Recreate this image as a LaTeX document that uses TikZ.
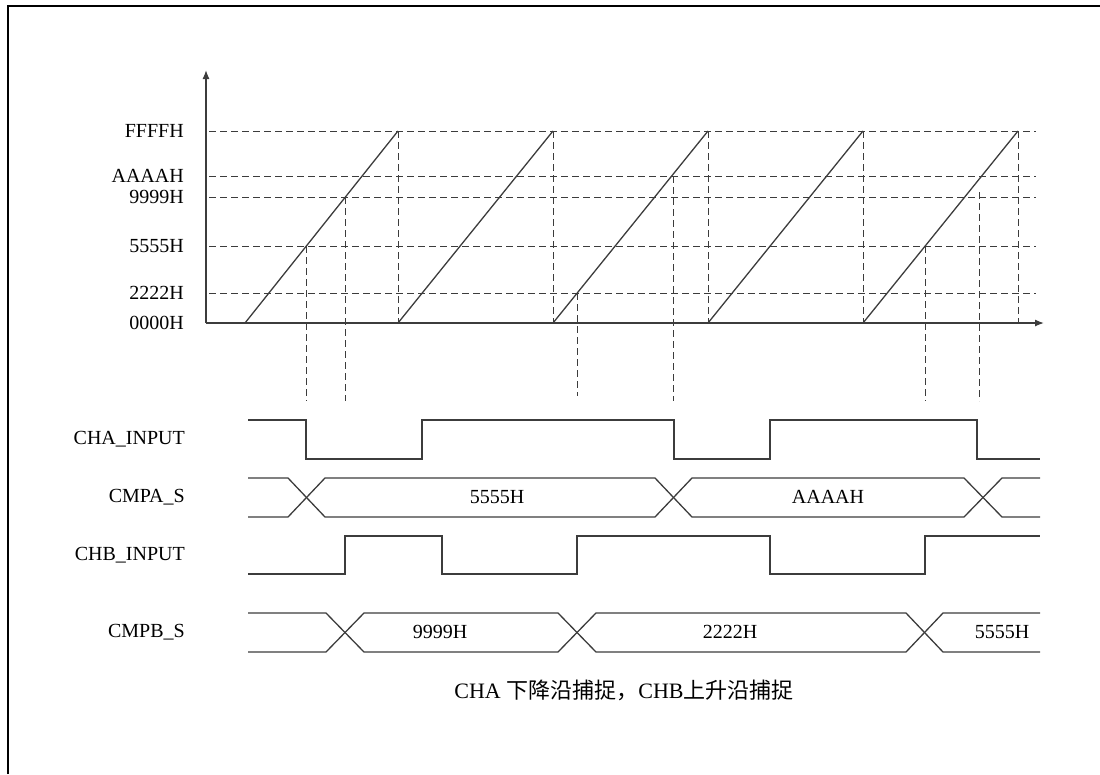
\documentclass[tikz,border=0pt]{standalone}
\usepackage{fontspec}
\setmainfont{Liberation Serif}
\newfontfamily\cjk{Noto Sans CJK SC}
\usepackage{tikz}
\usetikzlibrary{arrows.meta}
\definecolor{wave}{HTML}{3C3C3C}
\tikzset{%
    >={Latex[length=9pt,width=7pt]},
    sig/.style={color=wave, line width=1.3pt},
    grid/.style={color=wave, line width=0.9pt, dash pattern=on 7pt off 4pt},
    lbl/.style={anchor=east, inner sep=0pt, font=\fontsize{20}{23}\selectfont},
    val/.style={inner sep=0pt, font=\fontsize{20}{23}\selectfont}
}
\newcommand\SawTooth[3]{%
    \draw[sig] (#1,323) -- (#2,131);
    \draw[grid] (#2,131) -- (#2,323) node[coordinate] (#3) {}
}
\newcommand\Capture[3]{%
    \draw[grid] (#1,#2) -- (#1,#3)
}

\begin{document}
\begin{tikzpicture}[x=1pt, y=-1pt]
      \useasboundingbox (0,0) rectangle (1100,774);
      \draw[line width=1.6pt] (8,774) -- (8,6) -- (1100,6);

      \foreach \v/\y in {FFFFH/131, AAAAH/176, 9999H/197, 5555H/246, 2222H/293} {
        \draw[grid] (209,\y) -- (1036,\y);
        \node[lbl] (lv\y) at (184,\y) {\v};
      }
      \node[lbl] (lv323) at (184,323) {0000H};

      \draw[sig, ->] (206,323) -- (206,70);
      \draw[sig, ->] (206,323) -- (1044,323);

      \SawTooth{245}{398}{p1};
      \SawTooth{398}{553}{p2};
      \SawTooth{553}{708}{p3};
      \SawTooth{708}{863}{p4};
      \SawTooth{863}{1018}{p5};

      \Capture{306}{246}{401};
      \Capture{345}{197}{401};
      \Capture{577}{293}{396};
      \Capture{673}{176}{401};
      \Capture{925}{246}{401};
      \Capture{979}{192}{401};

      \node[lbl] (cha) at (185,439) {CHA\_INPUT};
      \node[lbl] (cmpa) at (185,497) {CMPA\_S};
      \node[lbl] (chb) at (185,555) {CHB\_INPUT};
      \node[lbl] (cmpb) at (185,632) {CMPB\_S};

      \draw[sig] (248,420) -- (306,420) -- (306,459) -- (422,459) -- (422,420) -- (674,420) -- (674,459)
        -- (770,459) -- (770,420) -- (977,420) -- (977,459) -- (1040,459);

      \draw[sig] (248,478) -- (288,478) -- (325,517) -- (655,517) -- (692,478) -- (964,478) -- (1002,517) -- (1040,517);
      \draw[sig] (248,517) -- (288,517) -- (325,478) -- (655,478) -- (692,517) -- (964,517) -- (1002,478) -- (1040,478);
      \node[val] (a1) at (497,497) {5555H};
      \node[val] (a2) at (828,497) {AAAAH};

      \draw[sig] (248,574) -- (345,574) -- (345,536) -- (442,536) -- (442,574) -- (577,574) -- (577,536)
        -- (770,536) -- (770,574) -- (925,574) -- (925,536) -- (1040,536);

      \draw[sig] (248,613) -- (326,613) -- (364,652) -- (558,652) -- (596,613) -- (906,613) -- (943,652) -- (1040,652);
      \draw[sig] (248,652) -- (326,652) -- (364,613) -- (558,613) -- (596,652) -- (906,652) -- (943,613) -- (1040,613);
      \node[val] (b1) at (440,632) {9999H};
      \node[val] (b2) at (730,632) {2222H};
      \node[val] (b3) at (1002,632) {5555H};

      \node[val, font=\fontsize{22}{26}\selectfont] (note) at (624,690) {CHA {\cjk 下降沿捕捉，}CHB{\cjk 上升沿捕捉}};
    \end{tikzpicture}
\end{document}
